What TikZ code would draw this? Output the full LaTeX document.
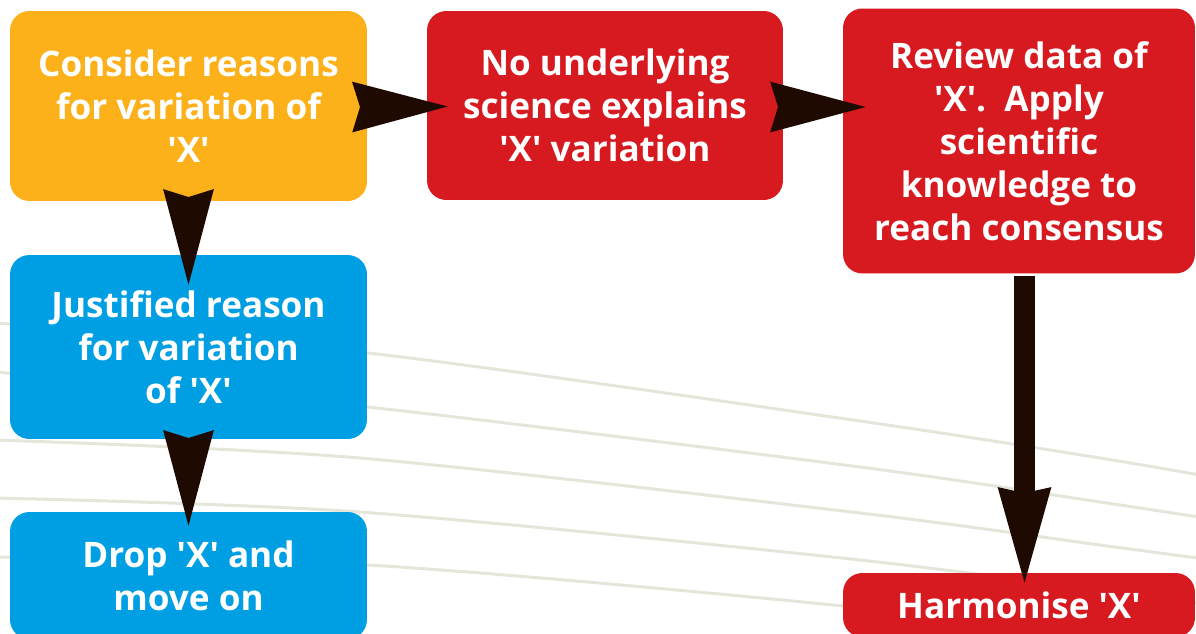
\documentclass[tikz,border=0pt]{standalone}
\usepackage{fontspec}
\setmainfont{Open Sans}
\usepackage{tikz}
\usetikzlibrary{arrows.meta,calc}

\definecolor{stepamber}{RGB}{252,176,26}
\definecolor{stepred}{RGB}{215,25,32}
\definecolor{stepblue}{RGB}{0,159,227}
\definecolor{arrowbrown}{RGB}{30,10,0}
\definecolor{guideline}{RGB}{226,231,217}

% straight quote around the variable name
\newcommand{\varX}{\textquotesingle X\textquotesingle}

\tikzset{
  box/.style={rounded corners=11pt, inner sep=0pt, text=white, align=center,
    font=\fontsize{20}{24.4}\selectfont\bfseries},
  % head only: the path is as long as the tip, the stub of shaft is cut off
  flow/.style={arrowbrown, line width=0.2pt, shorten <=4.6pt,
    -{Stealth[length=54.4pt, width=28.9pt, inset=4.5pt, line width=0pt]}},
  bigflow/.style={arrowbrown, line width=11.9pt,
    -{Stealth[length=54.4pt, width=30.6pt, inset=3.4pt, line width=0pt]}},
  bgline/.style={guideline, line width=1.7pt}
}

\begin{document}
\begin{tikzpicture}[x=0.02cm, y=-0.02cm]
\useasboundingbox (0,0) rectangle (1196,633);
\clip (0,0) rectangle (1196,633);

% faint lines in the background
\draw[bgline] plot[smooth] coordinates {(-5,323) (368,353) (860,421) (1100,458) (1205,476)};
\draw[bgline] plot[smooth] coordinates {(-5,372) (368,407) (860,467) (1100,502) (1205,518)};
\draw[bgline] plot[smooth] coordinates {(-5,440) (360,458) (860,513) (1100,545) (1205,559)};
\draw[bgline] plot[smooth] coordinates {(-5,498) (360,512) (860,560) (1205,604)};
\draw[bgline] plot[smooth] coordinates {(-5,557) (368,565) (843,606) (1205,650)};

% boxes (sizes in cm, 1px = 0.02cm)
\node[box, fill=stepamber, minimum width=7.14cm, minimum height=3.8cm] (consider) at (188.5,106)
  {Consider reasons\\for variation of\\\varX};
\node[box, fill=stepred, minimum width=7.12cm, minimum height=3.78cm] (noscience) at (605,105.5)
  {No underlying\\science explains\\\varX{} variation};
\node[box, fill=stepred, minimum width=7.04cm, minimum height=5.3cm] (review) at (1019,141)
  {Review data of\\\varX.\ \ Apply\\scientific\\knowledge to\\reach consensus};
\node[box, fill=stepblue, minimum width=7.14cm, minimum height=3.68cm] (justified) at (188.5,347)
  {Justified reason\\for variation\\of \varX};
\node[box, fill=stepblue, minimum width=7.14cm, minimum height=2.54cm] (drop) at (188.5,575.5)
  {Drop \varX{} and\\move on};
\node[box, fill=stepred, minimum width=7.04cm, minimum height=1.28cm] (harmonise) at (1019,605)
  {Harmonise \varX};

% arrows
\draw[flow] ($(consider.east)+(-15,1)$) -- ($(noscience.west)+(21,1)$);
\draw[flow] ($(noscience.east)+(-13,1.5)$) -- ($(noscience.east -| review.west)+(23,1.5)$);
\draw[flow] ($(consider.south)+(0,-12)$) -- ($(justified.north)+(0,30)$);
\draw[flow] ($(justified.south)+(0,-9)$) -- ($(drop.north)+(0,14)$);
\draw[bigflow] ($(review.south)+(5.5,2)$) -- ($(harmonise.north)+(5.5,10)$);
\end{tikzpicture}
\end{document}
